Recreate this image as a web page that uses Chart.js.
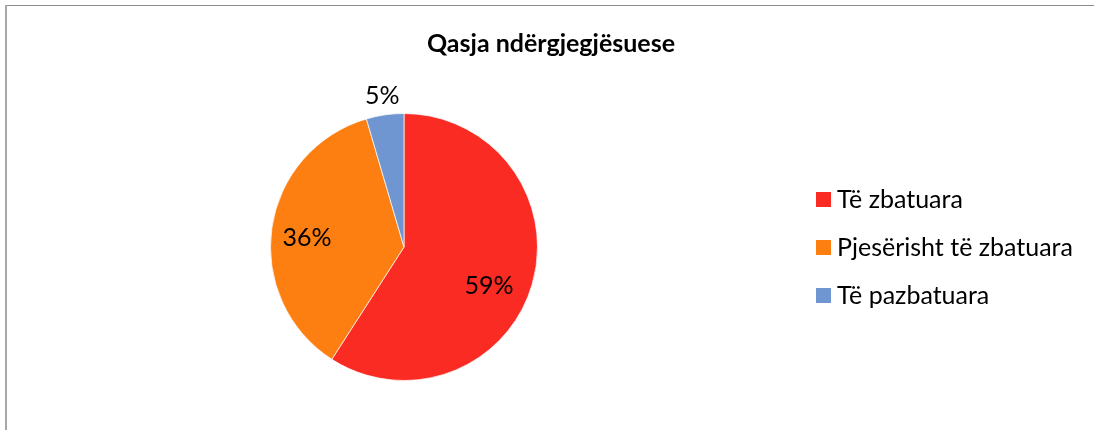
<!DOCTYPE html>
<html>
<head>
<meta charset="utf-8">
<script src="https://cdn.jsdelivr.net/npm/chart.js@4.4.1/dist/chart.umd.min.js"></script>
<style>
  html, body { margin: 0; padding: 0; background: #fff; }
  #wrap { position: relative; width: 1094px; height: 430px; }
</style>
</head>
<body>
<div id="wrap"><canvas id="c" width="1094" height="430"></canvas></div>
<script>
const chartTitle = 'Qasja ndërgjegjësuese';
const categories = ['Të zbatuara', 'Pjesërisht të zbatuara', 'Të pazbatuara'];
const counts = [13, 8, 1];
const colors = ['#F92B23', '#FD7F12', '#7096D2'];

const FONT = 'Lato, "Open Sans", sans-serif';

const framePlugin = {
  id: 'frame',
  beforeDraw(chart) {
    const ctx = chart.ctx;
    ctx.save();
    ctx.fillStyle = '#8c8c8c';
    ctx.fillRect(5, 5, 1089, 1);
    ctx.fillStyle = '#a8a8a8';
    ctx.fillRect(5, 5, 2, 425);
    ctx.restore();
  }
};

const titlePlugin = {
  id: 'customTitle',
  afterDraw(chart) {
    const ctx = chart.ctx;
    ctx.save();
    ctx.font = 'bold 25px ' + FONT;
    ctx.fillStyle = '#000';
    ctx.textAlign = 'center';
    ctx.textBaseline = 'middle';
    ctx.fillText(chartTitle, 551, 44);
    ctx.restore();
  }
};

const legendPlugin = {
  id: 'customLegend',
  afterDraw(chart) {
    const ctx = chart.ctx;
    const ds = chart.data.datasets[0];
    ctx.save();
    ctx.font = '25px ' + FONT;
    ctx.textBaseline = 'middle';
    ctx.textAlign = 'left';
    chart.data.labels.forEach((lab, i) => {
      const cy = 200 + i * 48;
      ctx.fillStyle = ds.backgroundColor[i];
      ctx.fillRect(816, cy - 8, 15, 15);
      ctx.fillStyle = '#000';
      ctx.fillText(lab, 837, cy);
    });
    ctx.restore();
  }
};

const labelPlace = [
  { f: 0.70, off: 0.14 },
  { f: 0.73, off: -0.05 },
  { f: 1.145, off: 0 }
];

const pctPlugin = {
  id: 'pctLabels',
  afterDatasetsDraw(chart) {
    const ctx = chart.ctx;
    const meta = chart.getDatasetMeta(0);
    const data = chart.data.datasets[0].data;
    const total = data.reduce((a, b) => a + b, 0);
    ctx.save();
    ctx.font = '25px ' + FONT;
    ctx.fillStyle = '#000';
    ctx.textAlign = 'center';
    ctx.textBaseline = 'middle';
    meta.data.forEach((arc, i) => {
      const p = labelPlace[i];
      const mid = (arc.startAngle + arc.endAngle) / 2 + p.off;
      const r = arc.outerRadius * p.f;
      const x = arc.x + Math.cos(mid) * r;
      const y = arc.y + Math.sin(mid) * r;
      ctx.fillText(Math.round(data[i] / total * 100) + '%', x, y);
    });
    ctx.restore();
  }
};

new Chart(document.getElementById('c'), {
  type: 'pie',
  data: {
    labels: categories,
    datasets: [{
      data: counts,
      backgroundColor: colors,
      borderColor: 'rgba(255,255,255,0.7)',
      borderWidth: 1
    }]
  },
  options: {
    responsive: false,
    animation: false,
    layout: { padding: { left: 270, right: 556, top: 113, bottom: 49 } },
    plugins: {
      legend: { display: false },
      title: { display: false },
      tooltip: { enabled: false }
    }
  },
  plugins: [framePlugin, pctPlugin, titlePlugin, legendPlugin]
});
</script>
</body>
</html>
